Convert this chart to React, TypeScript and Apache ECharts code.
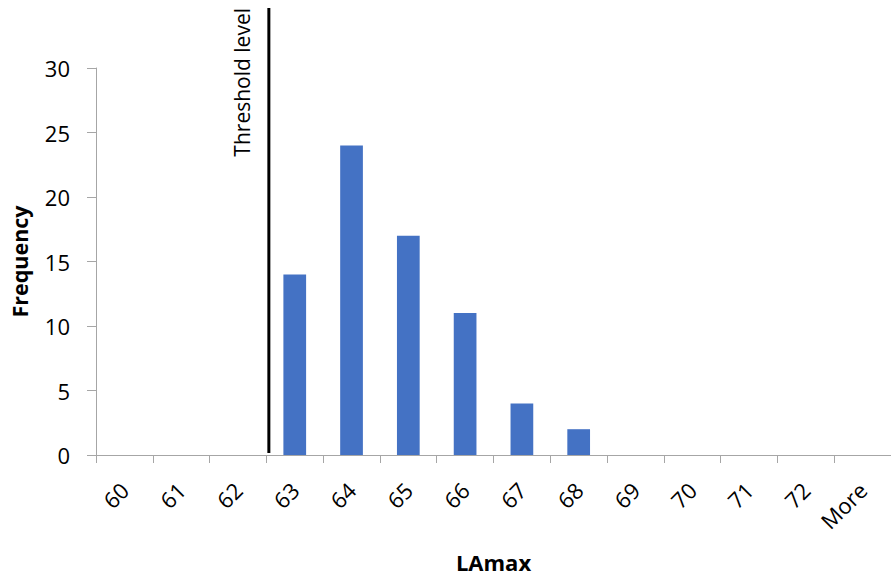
import React, { useEffect, useRef } from "react";
import * as echarts from "echarts";

const categories = ["60", "61", "62", "63", "64", "65", "66", "67", "68", "69", "70", "71", "72", "More"];
const frequency = [0, 0, 0, 14, 24, 17, 11, 4, 2, 0, 0, 0, 0, 0];
const yTicks = { min: 0, max: 30, interval: 5 };
const thresholdCategory = "63"; // threshold sits at the lower edge of this bin
const thresholdLabel = "Threshold level";

const FONT = "'Open Sans', 'Noto Sans', sans-serif";

export default function App() {
  const ref = useRef<HTMLDivElement>(null);
  useEffect(() => {
    if (!ref.current) return;
    const chart = echarts.init(ref.current, undefined, { renderer: "svg" });
    const axisColor = "#a6a6a6";
    chart.setOption({
      animation: false,
      backgroundColor: "#ffffff",
      grid: { left: 96, top: 68, width: 805, height: 390, containLabel: false },
      xAxis: {
        type: "category",
        data: categories,
        name: "LAmax",
        nameLocation: "middle",
        nameGap: 96,
        nameTextStyle: { fontFamily: FONT, fontSize: 22, fontWeight: "bold", color: "#000", verticalAlign: "top" },
        axisLine: { lineStyle: { color: axisColor, width: 1 } },
        axisTick: { show: true, length: 8, lineStyle: { color: axisColor }, alignWithLabel: false },
        axisLabel: { rotate: 45, margin: 31, fontFamily: FONT, fontSize: 22, color: "#000", interval: 0 },
        splitLine: { show: false },
      },
      yAxis: {
        type: "value",
        min: yTicks.min,
        max: yTicks.max,
        interval: yTicks.interval,
        name: "Frequency",
        nameLocation: "middle",
        nameGap: 66,
        nameTextStyle: { fontFamily: FONT, fontSize: 21.5, fontWeight: "bold", color: "#000" },
        axisLine: { show: true, lineStyle: { color: axisColor, width: 1 } },
        axisTick: { show: true, length: 9, lineStyle: { color: axisColor } },
        axisLabel: { margin: 26, fontFamily: FONT, fontSize: 22, color: "#000" },
        splitLine: { show: false },
      },
      series: [
        {
          type: "bar",
          data: frequency,
          barWidth: "40%",
          itemStyle: { color: "#4472C4" },
        },
      ],
    });
    const idx = categories.indexOf(thresholdCategory);
    const c0 = chart.convertToPixel({ xAxisIndex: 0 }, categories[0]) as number;
    const c1 = chart.convertToPixel({ xAxisIndex: 0 }, categories[1]) as number;
    const band = c1 - c0;
    const cx = chart.convertToPixel({ xAxisIndex: 0 }, categories[idx]) as number;
    const x = cx - band / 2 + 2.5;
    const yBottom = (chart.convertToPixel({ yAxisIndex: 0 }, 0) as number) - 2;
    const yTop = 8;
    chart.setOption({
      graphic: [
        {
          type: "line",
          shape: { x1: x, y1: yTop, x2: x, y2: yBottom },
          style: { stroke: "#000", lineWidth: 3 },
          z: 10,
        },
        {
          type: "text",
          x: x - 37,
          y: yTop,
          rotation: Math.PI / 2,
          style: {
            text: thresholdLabel,
            fontFamily: FONT,
            fontSize: 21,
            fill: "#000",
            align: "right",
            verticalAlign: "top",
          },
          z: 10,
        },
      ],
    });
    return () => chart.dispose();
  }, []);
  return (
    <div
      ref={ref}
      style={{ position: "absolute", left: 0, top: 0, width: 891, height: 578, background: "#fff" }}
    />
  );
}
